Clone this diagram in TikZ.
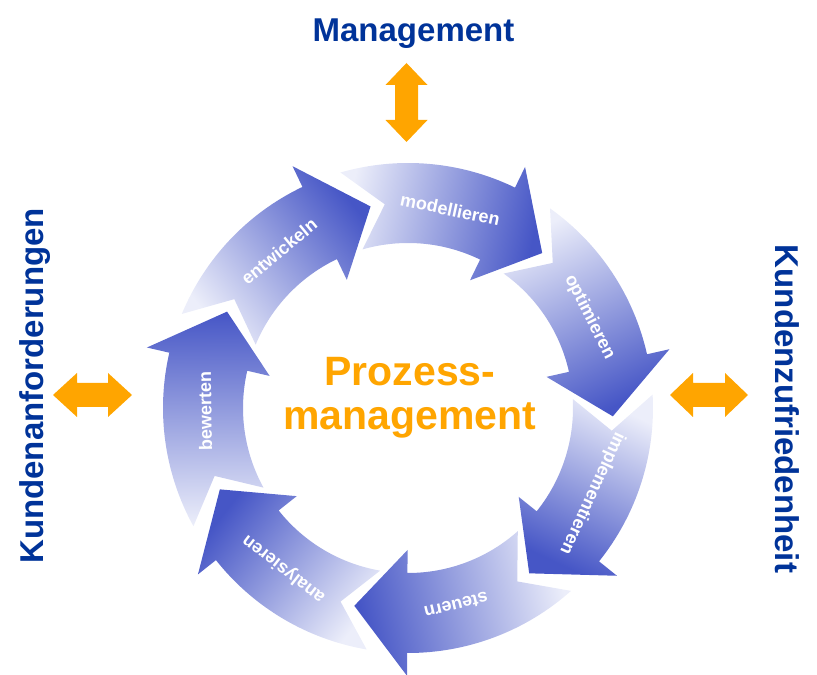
\documentclass[tikz,border=0pt]{standalone}
\usepackage{fontspec}
\setmainfont{Liberation Sans}
\definecolor{ringhell}{RGB}{236,238,250}
\definecolor{ringdunkel}{RGB}{70,86,198}
\definecolor{pfeilorange}{RGB}{255,165,0}
\definecolor{titelblau}{RGB}{0,51,153}
\tikzset{
  ringtext/.style={text=white, font=\fontsize{18}{21}\selectfont\bfseries},
  titel/.style={text=titelblau, font=\fontsize{33}{38}\selectfont\bfseries},
  pfeil/.style={fill=pfeilorange}
}
\begin{document}
\begin{tikzpicture}[x=1pt,y=1pt]
  \useasboundingbox (0,0) rectangle (817,675);

  \node[titel, anchor=base] (management) at (413.5,633) {Management};
  \node[titel, anchor=base, rotate=90] (anforderungen) at (43,289) {Kundenanforderungen};
  \node[titel, anchor=base, rotate=-90] (zufriedenheit) at (775,266) {Kundenzufriedenheit};

  % orange Doppelpfeile
  \fill[pfeil] (406.5,612)--++(21,-22)--++(-9.5,0)--++(0,-35)--++(9.5,0)--++(-21,-22)--++(-21,22)--++(9.5,0)--++(0,35)--++(-9.5,0)--cycle;
  \fill[pfeil] (53,280)--++(24,22)--++(0,-10)--++(31,0)--++(0,10)--++(24,-22)--++(-24,-22)--++(0,10)--++(-31,0)--++(0,-10)--cycle;
  \fill[pfeil] (670,280)--++(23,22)--++(0,-10)--++(32,0)--++(0,10)--++(23,-22)--++(-23,-22)--++(0,10)--++(-32,0)--++(0,-10)--cycle;

  % Kreislauf
  \begin{scope}[shift={(408,267)}]
    \foreach \name [count=\k from 0] in {modellieren,optimieren,implementieren,steuern,analysieren,bewerten,entwickeln}{
      \pgfmathsetmacro\T{106-51.4286*\k}
      \pgfmathsetmacro\N{\T-9.5}
      \pgfmathsetmacro\H{\T-41.9}
      \pgfmathsetmacro\E{\T-56.9}
      \pgfmathsetmacro\L{\T-28}
      \pgfmathsetmacro\S{\T-28.5-180}
      \shade[top color=ringdunkel, bottom color=ringhell, shading angle=\S]
        (\T:245) arc[start angle=\T, end angle=\H, radius=245pt] -- (\H:268) -- (\E:205) -- (\H:142) -- (\H:165)
        arc[start angle=\H, end angle=\T, radius=165pt] -- (\N:205) -- cycle;
      \node[ringtext, rotate=\L-90] (ring\k) at (\L:203) {\name};
    }
  \end{scope}

  \node[text=pfeilorange, font=\fontsize{41}{44}\selectfont\bfseries, align=center] (mitte) at (410,277.3) {Prozess-\\management};
\end{tikzpicture}
\end{document}
